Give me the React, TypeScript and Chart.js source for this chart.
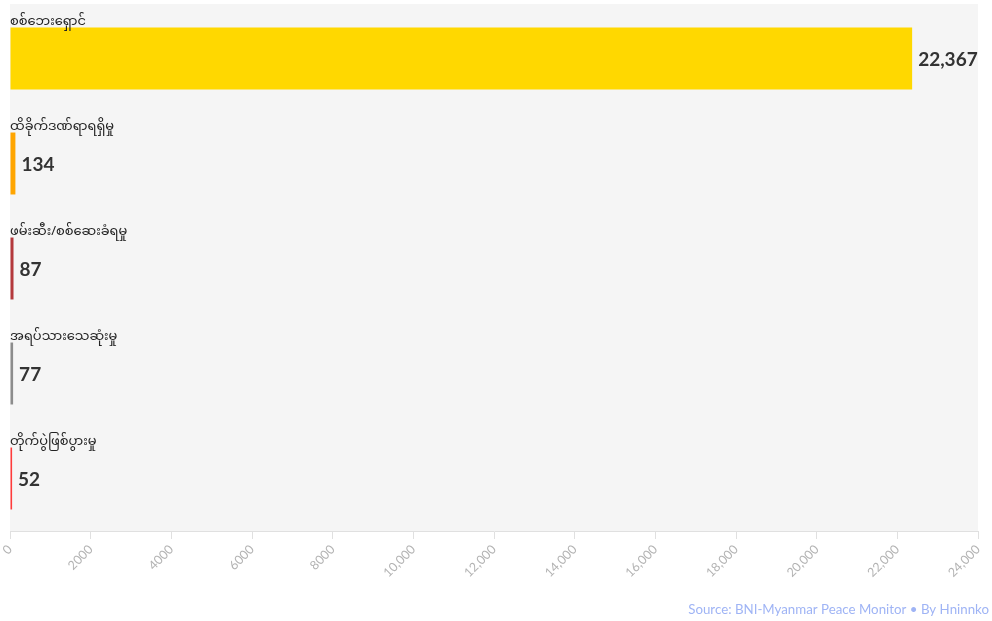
import React, { useEffect, useRef } from "react";
import { Chart, registerables } from "chart.js";

Chart.register(...registerables);

const categories: string[] = [
  "စစ်ဘေးရှောင်",
  "ထိခိုက်ဒဏ်ရာရရှိမှု",
  "ဖမ်းဆီး/စစ်ဆေးခံရမှု",
  "အရပ်သားသေဆုံးမှု",
  "တိုက်ပွဲဖြစ်ပွားမှု",
];
const values: number[] = [22367, 134, 87, 77, 52];
const barColors: string[] = ["#FFD800", "#FFA500", "#B4393C", "#8C8C8C", "#FF3B3B"];
const tickValues: number[] = [0, 2000, 4000, 6000, 8000, 10000, 12000, 14000, 16000, 18000, 20000, 22000, 24000];
const sourceText = "Source: BNI-Myanmar Peace Monitor • By Hninnko";

const fmtTick = (v: number) => (v >= 10000 ? v.toLocaleString("en-US") : String(v));

const App: React.FC = () => {
  const ref = useRef<HTMLCanvasElement | null>(null);

  useEffect(() => {
    if (!ref.current) return;
    const overlay = {
      id: "overlay",
      beforeDraw(chart: any) {
        const { ctx, chartArea } = chart;
        ctx.save();
        ctx.fillStyle = "#f5f5f5";
        ctx.fillRect(chartArea.left, 4, chartArea.right - chartArea.left, chartArea.bottom - 4);
        ctx.restore();
      },
      afterDatasetsDraw(chart: any) {
        const { ctx } = chart;
        const meta = chart.getDatasetMeta(0);
        ctx.save();
        meta.data.forEach((bar: any, i: number) => {
          const top = bar.y - bar.height / 2;
          ctx.fillStyle = "#222";
          ctx.font = '13px "Noto Sans Myanmar", Padauk, "Noto Sans", sans-serif';
          ctx.textAlign = "left";
          ctx.textBaseline = "alphabetic";
          ctx.fillText(categories[i], 10, top - 3);
          ctx.fillStyle = "#333";
          ctx.font = 'bold 19px Lato, "Noto Sans", sans-serif';
          ctx.textBaseline = "middle";
          ctx.fillText(values[i].toLocaleString("en-US"), bar.x + 6, bar.y + 1);
        });
        ctx.fillStyle = "#9fb4f5";
        ctx.font = '13.3px Lato, "Noto Sans", sans-serif';
        ctx.textAlign = "right";
        ctx.textBaseline = "middle";
        ctx.fillText(sourceText, 989, 610);
        ctx.restore();
      },
    };

    const chart = new Chart(ref.current, {
      type: "bar",
      data: {
        labels: categories,
        datasets: [
          {
            data: values,
            backgroundColor: barColors,
            borderWidth: 0,
            barPercentage: 0.59,
            categoryPercentage: 1,
          },
        ],
      },
      plugins: [overlay],
      options: {
        indexAxis: "y",
        animation: false,
        responsive: false,
        maintainAspectRatio: false,
        layout: { padding: { left: 10, right: 14, top: 6, bottom: 0 } },
        plugins: { legend: { display: false }, tooltip: { enabled: false } },
        scales: {
          y: { display: false },
          x: {
            min: 0,
            max: 24000,
            afterBuildTicks: (scale: any) => {
              scale.ticks = tickValues.map((v) => ({ value: v }));
            },
            afterFit: (scale: any) => {
              scale.height = 90;
            },
            border: { display: true, color: "#e0e0e0" },
            grid: { drawOnChartArea: false, drawTicks: true, tickLength: 8, color: "#e0e0e0" },
            ticks: {
              minRotation: 45,
              maxRotation: 45,
              padding: 3,
              color: "#b3b3b3",
              font: { size: 12.5, family: 'Lato, "Noto Sans", sans-serif' },
              callback: (v: any) => fmtTick(Number(v)),
            },
          },
        },
      },
    });
    return () => chart.destroy();
  }, []);

  return (
    <div style={{ position: "fixed", left: 0, top: 0, width: 992, height: 621, background: "#fff" }}>
      <canvas ref={ref} width={992} height={621} style={{ display: "block" }} />
    </div>
  );
};

export default App;
